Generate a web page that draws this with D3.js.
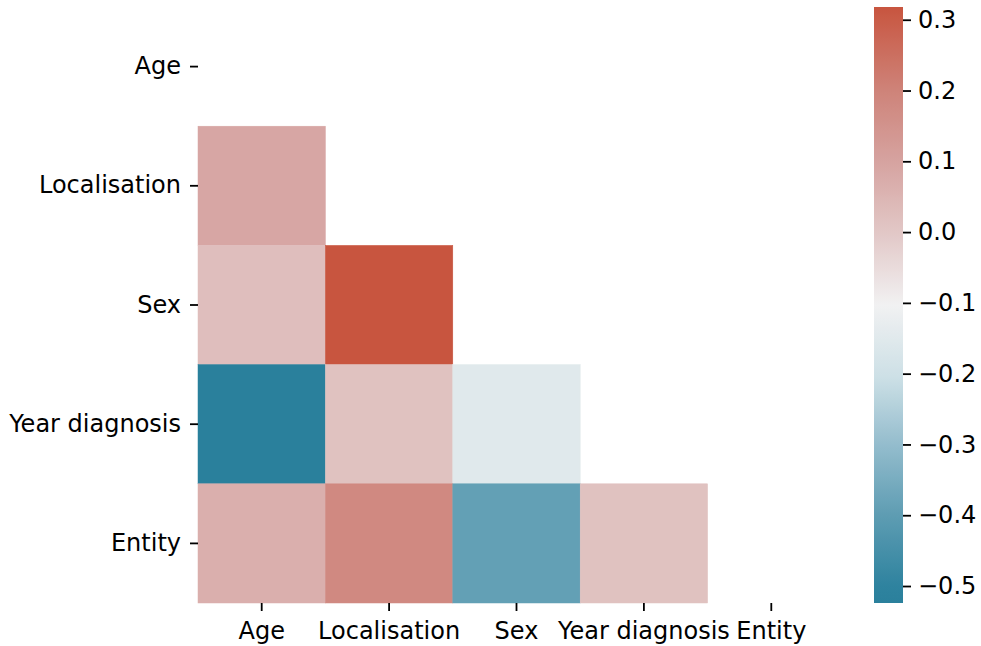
<!DOCTYPE html>
<html>
<head>
  <meta charset='utf-8'>
  <title>Correlation heatmap</title>
  <style type='text/css'>
body{
  margin:0;
  background:#fff;
}
text{
  font-family: 'DejaVu Sans', sans-serif;
}
  </style>
</head>
<body>
<div id='chart'></div>
<script src='https://d3js.org/d3.v7.min.js'></script>
<script type='text/javascript'>

// variable names (same on both axes)
var labels = ['Age', 'Localisation', 'Sex', 'Year diagnosis', 'Entity'];

// lower triangle of the correlation matrix, null = masked
var rowAge          = [null,  null,  null,  null,  null];
var rowLocalisation = [0.09,  null,  null,  null,  null];
var rowSex          = [0.025, 0.318, null,  null,  null];
var rowYear         = [-0.524, 0.015, -0.15, null, null];
var rowEntity       = [0.065, 0.18, -0.39,  0.015, null];

var colorbarTicks = [0.3, 0.2, 0.1, 0.0, -0.1, -0.2, -0.3, -0.4, -0.5];

var matrix = [rowAge, rowLocalisation, rowSex, rowYear, rowEntity];

var W = 981, H = 646;
var svg = d3.select('#chart').append('svg')
    .attr('width', W)
    .attr('height', H);

// flatten the visible cells
var cells = [];
matrix.forEach(function (row, i) {
  row.forEach(function (v, j) {
    if (v !== null) cells.push({row: labels[i], col: labels[j], value: v});
  });
});

var vmin = d3.min(cells, function (d) { return d.value; });
var vmax = d3.max(cells, function (d) { return d.value; });
var span = vmax - vmin;

// diverging palette (teal -> light gray -> brick red), sampled at fractions of the range
var paletteT = [0, 0.03, 0.15, 0.27, 0.38, 0.5, 0.62, 0.74, 0.86, 1];
var paletteC = ['#2a809c', '#2f839f', '#5f9db3', '#96bece', '#cde0e6', '#f1f1f2',
                '#e2c8c7', '#d6a3a0', '#ce8379', '#c8553f'];

var color = d3.scaleLinear()
    .domain(paletteT.map(function (t) { return vmin + t * span; }))
    .range(paletteC)
    .interpolate(d3.interpolateRgb)
    .clamp(true);

var x = d3.scaleBand().domain(labels).range([198, 835]);
var y = d3.scaleBand().domain(labels).range([7, 603]);

svg.append('g').selectAll('rect')
  .data(cells)
  .enter()
  .append('rect')
    .attr('x', function (d) { return x(d.col); })
    .attr('y', function (d) { return y(d.row); })
    .attr('width', x.bandwidth())
    .attr('height', y.bandwidth())
    .attr('fill', function (d) { return color(d.value); })
    .attr('stroke', function (d) { return color(d.value); })
    .attr('stroke-width', 0.5);

var fontSize = '24px';

function styleAxis(g) {
  g.select('.domain').remove();
  g.selectAll('line').attr('stroke', '#000').attr('stroke-width', 1.8);
  g.selectAll('text').attr('font-size', fontSize).attr('fill', '#000')
    .attr('font-family', "'DejaVu Sans', sans-serif");
}

// y axis
var yAxis = svg.append('g')
    .attr('transform', 'translate(198,0)')
    .call(d3.axisLeft(y).tickSize(8).tickPadding(9));
styleAxis(yAxis);

// x axis
var xAxis = svg.append('g')
    .attr('transform', 'translate(0,603)')
    .call(d3.axisBottom(x).tickSize(8).tickPadding(11));
styleAxis(xAxis);

// colorbar
var cbX = 874, cbW = 29;
var cy = d3.scaleLinear().domain([vmin, vmax]).range([603, 7]);

var grad = svg.append('defs').append('linearGradient')
    .attr('id', 'cbgrad')
    .attr('x1', 0).attr('y1', 1)
    .attr('x2', 0).attr('y2', 0);
d3.range(0, 1.0001, 0.01).forEach(function (t) {
  grad.append('stop')
    .attr('offset', t)
    .attr('stop-color', color(vmin + t * span));
});

svg.append('rect')
    .attr('x', cbX)
    .attr('y', cy(vmax))
    .attr('width', cbW)
    .attr('height', cy(vmin) - cy(vmax))
    .attr('fill', 'url(#cbgrad)');

var cbAxis = svg.append('g')
    .attr('transform', 'translate(' + (cbX + cbW) + ',0)')
    .call(d3.axisRight(cy).tickValues(colorbarTicks).tickSize(8).tickPadding(7)
      .tickFormat(function (d) { return d3.format('.1f')(d).replace('-', '\u2212'); }));
styleAxis(cbAxis);

</script>
</body>
</html>
